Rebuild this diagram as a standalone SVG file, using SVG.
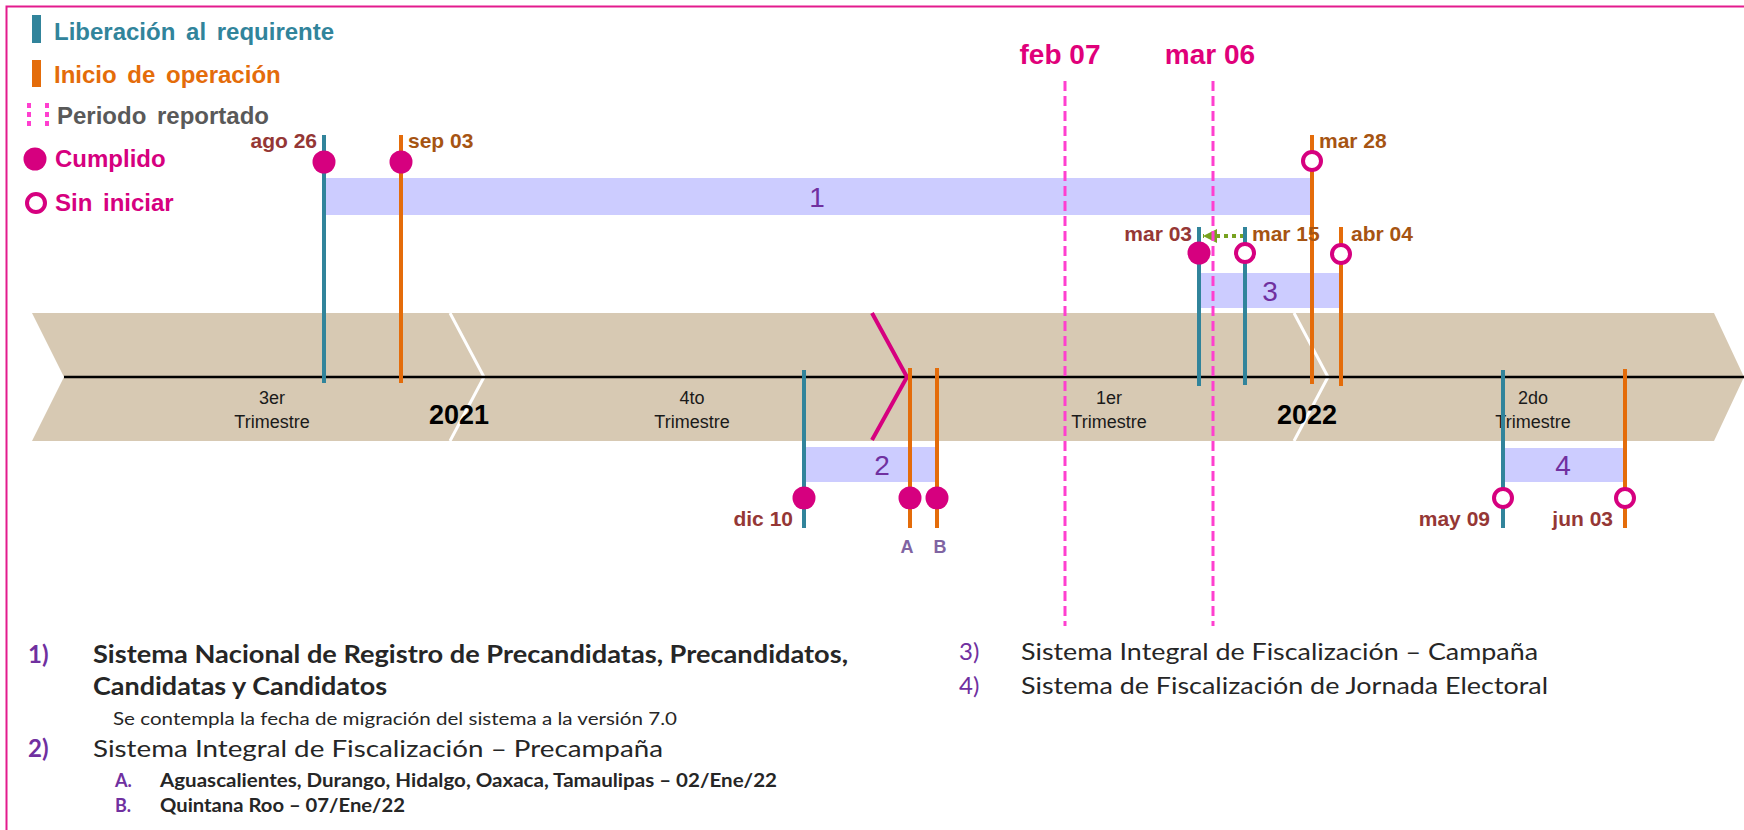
<svg xmlns="http://www.w3.org/2000/svg" width="1744" height="830" viewBox="0 0 1744 830">
<style>
.lbl{font-family:"Liberation Sans",Arial,sans-serif;font-weight:bold;font-size:21px}
.red{fill:#953735}
.brn{fill:#A65412}
.leg{font-family:"Liberation Sans",Arial,sans-serif;font-weight:bold;font-size:24px;word-spacing:4px}
.teal{stroke:#31849B;stroke-width:4;fill:none}
.orng{stroke:#E46C0A;stroke-width:4;fill:none}
.done{fill:#D6007F}
.todo{fill:#fff;stroke:#D6007F;stroke-width:4}
.bar{fill:#CCCCFF}
.num{font-family:"Liberation Sans",Arial,sans-serif;font-size:28px;fill:#7030A0;text-anchor:middle}
.tri{font-family:"Liberation Sans",Arial,sans-serif;font-size:18px;fill:#1a1a1a;text-anchor:middle}
.yr{font-family:"Liberation Sans",Arial,sans-serif;font-weight:bold;font-size:27px;fill:#000;text-anchor:middle}
.per{stroke:#FF3FCF;stroke-width:3;stroke-dasharray:10 5;fill:none}
.mk{font-family:"Liberation Sans",Arial,sans-serif;font-weight:bold;font-size:28px;fill:#E0007A;text-anchor:middle}
.bt{font-family:Lato,"Open Sans",sans-serif;fill:#262626}
.pn{font-family:Lato,"Open Sans",sans-serif;fill:#7030A0}
</style>
<defs>
<marker id="ga" markerUnits="userSpaceOnUse" markerWidth="14" markerHeight="14" refX="14" refY="7" orient="auto" viewBox="0 0 14 14">
<path d="M0,0 L14,7 L0,14 Z" fill="#77A21F"/>
</marker>
</defs>
<rect x="6.5" y="6.5" width="1760" height="840" fill="none" stroke="#E31B8D" stroke-width="2"/>

<g id="legend">
<rect x="32" y="15" width="9" height="28" fill="#31849B"/>
<text class="leg" x="54" y="40" fill="#31849B">Liberación al requirente</text>
<rect x="32" y="60" width="9" height="27" fill="#E46C0A"/>
<text class="leg" x="54" y="83" fill="#E46C0A">Inicio de operación</text>
<line x1="29" y1="103" x2="29" y2="128" stroke="#FF3FCF" stroke-width="4" stroke-dasharray="5 4"/>
<line x1="47" y1="103" x2="47" y2="128" stroke="#FF3FCF" stroke-width="4" stroke-dasharray="5 4"/>
<text class="leg" x="57" y="124" fill="#595959">Periodo reportado</text>
<circle class="done" cx="35" cy="159" r="11.5"/>
<text class="leg" x="55" y="167" fill="#D6007F">Cumplido</text>
<circle class="todo" cx="36" cy="203" r="9"/>
<text class="leg" x="55" y="211" fill="#D6007F">Sin iniciar</text>
</g>

<g id="timeline-band">
<polygon points="32,313 1714,313 1744,377 1714,441 32,441 64,377" fill="#D7C9B3"/>
<polyline points="450,313 484,377 450,441" fill="none" stroke="#fff" stroke-width="3"/>
<polyline points="1294,313 1328,377 1294,441" fill="none" stroke="#fff" stroke-width="3"/>
<line x1="64" y1="377" x2="1744" y2="377" stroke="#000" stroke-width="2.5"/>
<polyline points="872,313 907,377 872,440" fill="none" stroke="#D6007F" stroke-width="4"/>
<text class="tri" x="272" y="404">3er</text><text class="tri" x="272" y="428">Trimestre</text>
<text class="tri" x="692" y="404">4to</text><text class="tri" x="692" y="428">Trimestre</text>
<text class="tri" x="1109" y="404">1er</text><text class="tri" x="1109" y="428">Trimestre</text>
<text class="tri" x="1533" y="404">2do</text><text class="tri" x="1533" y="428">Trimestre</text>
<text class="yr" x="459" y="424">2021</text>
<text class="yr" x="1307" y="424">2022</text>
</g>

<g id="connectors">
<rect id="bar1" class="bar" x="324" y="178" width="988" height="37"/>
<rect id="bar2" class="bar" x="804" y="447" width="133" height="35"/>
<rect id="bar3" class="bar" x="1199" y="273" width="142" height="35"/>
<rect id="bar4" class="bar" x="1503" y="448" width="122" height="34"/>
<line x1="1244" y1="236" x2="1203" y2="236" stroke="#77A21F" stroke-width="4" stroke-dasharray="4 4" marker-end="url(#ga)"/>
</g>

<g id="bar-labels">
<text class="num" x="817" y="207">1</text>
<text class="num" x="882" y="475">2</text>
<text class="num" x="1270" y="301">3</text>
<text class="num" x="1563" y="475">4</text>
</g>

<g id="period-marks">
<line class="per" x1="1065" y1="81" x2="1065" y2="626"/>
<line class="per" x1="1213" y1="81" x2="1213" y2="626"/>
<text class="mk" x="1060" y="64">feb 07</text>
<text class="mk" x="1210" y="64">mar 06</text>
</g>

<g id="node-ago26">
<line class="teal" x1="324" y1="135" x2="324" y2="383"/>
<circle class="done" cx="324" cy="162" r="11.5"/>
<text class="lbl red" x="317" y="148" text-anchor="end">ago 26</text>
</g>
<g id="node-sep03">
<line class="orng" x1="401" y1="135" x2="401" y2="383"/>
<circle class="done" cx="401" cy="162" r="11.5"/>
<text class="lbl brn" x="408" y="148">sep 03</text>
</g>
<g id="node-mar28">
<line class="orng" x1="1312" y1="135" x2="1312" y2="384"/>
<circle class="todo" cx="1312" cy="161" r="9"/>
<text class="lbl brn" x="1319" y="148">mar 28</text>
</g>
<g id="node-mar03">
<line class="teal" x1="1199" y1="227" x2="1199" y2="386"/>
<circle class="done" cx="1199" cy="253" r="11.5"/>
<text class="lbl red" x="1192" y="241" text-anchor="end">mar 03</text>
</g>
<g id="node-mar15">
<line class="teal" x1="1245" y1="227" x2="1245" y2="385"/>
<circle class="todo" cx="1245" cy="253" r="9"/>
<text class="lbl brn" x="1252" y="241">mar 15</text>
</g>
<g id="node-abr04">
<line class="orng" x1="1341" y1="227" x2="1341" y2="386"/>
<circle class="todo" cx="1341" cy="254" r="9"/>
<text class="lbl brn" x="1351" y="241">abr 04</text>
</g>
<g id="node-dic10">
<line class="teal" x1="804" y1="370" x2="804" y2="528"/>
<circle class="done" cx="804" cy="498" r="11.5"/>
<text class="lbl red" x="793" y="526" text-anchor="end">dic 10</text>
</g>
<g id="node-A">
<line class="orng" x1="910" y1="368" x2="910" y2="528"/>
<circle class="done" cx="910" cy="498" r="11.5"/>
<text x="907" y="553" text-anchor="middle" font-family="Liberation Sans, Arial, sans-serif" font-weight="bold" font-size="18" fill="#8064A2">A</text>
</g>
<g id="node-B">
<line class="orng" x1="937" y1="368" x2="937" y2="528"/>
<circle class="done" cx="937" cy="498" r="11.5"/>
<text x="940" y="553" text-anchor="middle" font-family="Liberation Sans, Arial, sans-serif" font-weight="bold" font-size="18" fill="#8064A2">B</text>
</g>
<g id="node-may09">
<line class="teal" x1="1503" y1="370" x2="1503" y2="528"/>
<circle class="todo" cx="1503" cy="498" r="9"/>
<text class="lbl red" x="1490" y="526" text-anchor="end">may 09</text>
</g>
<g id="node-jun03">
<line class="orng" x1="1625" y1="369" x2="1625" y2="528"/>
<circle class="todo" cx="1625" cy="498" r="9"/>
<text class="lbl red" x="1613" y="526" text-anchor="end">jun 03</text>
</g>

<g id="notes">
<text class="pn" x="28" y="663" font-size="24" font-weight="bold">1)</text>
<text class="bt" x="93" y="663" font-size="24" font-weight="bold" textLength="755" lengthAdjust="spacingAndGlyphs">Sistema Nacional de Registro de Precandidatas, Precandidatos,</text>
<text class="bt" x="93" y="695" font-size="24" font-weight="bold" textLength="294" lengthAdjust="spacingAndGlyphs">Candidatas y Candidatos</text>
<text class="bt" x="113" y="725" font-size="18" fill="#404040" textLength="564" lengthAdjust="spacingAndGlyphs">Se contempla la fecha de migración del sistema a la versión 7.0</text>
<text class="pn" x="28" y="757" font-size="24" font-weight="bold">2)</text>
<text class="bt" x="93" y="757" font-size="24" textLength="570" lengthAdjust="spacingAndGlyphs">Sistema Integral de Fiscalización – Precampaña</text>
<text class="pn" x="115" y="787" font-size="18" font-weight="bold">A.</text>
<text class="bt" x="160" y="787" font-size="18" font-weight="bold" textLength="617" lengthAdjust="spacingAndGlyphs">Aguascalientes, Durango, Hidalgo, Oaxaca, Tamaulipas – 02/Ene/22</text>
<text class="pn" x="115" y="812" font-size="18" font-weight="bold">B.</text>
<text class="bt" x="160" y="812" font-size="18" font-weight="bold" textLength="245" lengthAdjust="spacingAndGlyphs">Quintana Roo – 07/Ene/22</text>
<text class="pn" x="959" y="660" font-size="24">3)</text>
<text class="bt" x="1021" y="660" font-size="24" textLength="517" lengthAdjust="spacingAndGlyphs">Sistema Integral de Fiscalización – Campaña</text>
<text class="pn" x="959" y="694" font-size="24">4)</text>
<text class="bt" x="1021" y="694" font-size="24" textLength="527" lengthAdjust="spacingAndGlyphs">Sistema de Fiscalización de Jornada Electoral</text>
</g>
</svg>
